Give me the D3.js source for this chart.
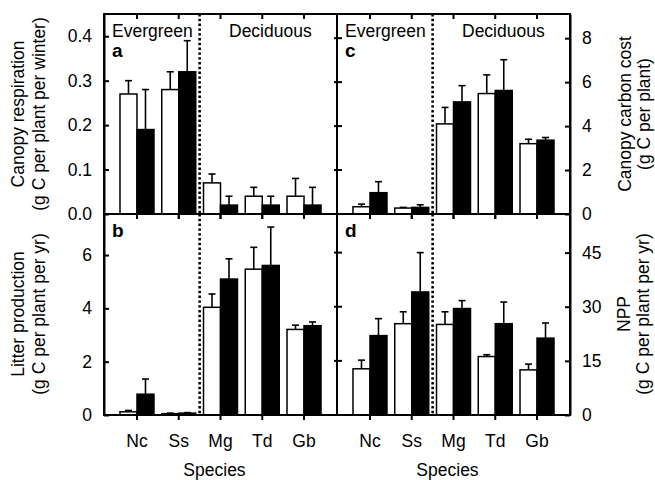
<!DOCTYPE html>
<html>
<head>
<meta charset="utf-8">
<script src="https://d3js.org/d3.v7.min.js"></script>
<style>
  body { margin: 0; background: #fff; }
  text { font-family: "Liberation Sans", Arial, sans-serif; fill: #000; }
</style>
</head>
<body>
<svg width="655" height="480"></svg>
<script>
// categories
var species = ["Nc", "Ss", "Mg", "Td", "Gb"];

// a: canopy respiration (g C per plant per winter)
var respWhite    = [0.27, 0.28, 0.07, 0.04, 0.04];
var respWhiteErr = [0.03, 0.04, 0.02, 0.02, 0.04];
var respBlack    = [0.19, 0.32, 0.02, 0.02, 0.02];
var respBlackErr = [0.09, 0.07, 0.02, 0.02, 0.04];
var respTicks = [0, 0.1, 0.2, 0.3, 0.4];

// b: litter production (g C per plant per yr)
var litterWhite    = [0.12, 0.05, 4.04, 5.47, 3.21];
var litterWhiteErr = [0.05, 0.02, 0.50, 0.82, 0.16];
var litterBlack    = [0.78, 0.07, 5.10, 5.61, 3.35];
var litterBlackErr = [0.57, 0.02, 0.76, 1.44, 0.14];
var litterTicks = [0, 2, 4, 6];

// c: canopy carbon cost (g C per plant)
var costWhite    = [0.33, 0.27, 4.10, 5.48, 3.20];
var costWhiteErr = [0.12, 0.03, 0.75, 0.85, 0.20];
var costBlack    = [0.97, 0.30, 5.10, 5.62, 3.36];
var costBlackErr = [0.50, 0.12, 0.74, 1.40, 0.12];
var costTicks = [0, 2, 4, 6, 8];

// d: NPP (g C per plant per yr)
var nppWhite    = [12.8, 25.3, 25.1, 16.2, 12.5];
var nppWhiteErr = [2.4, 3.3, 3.5, 0.5, 1.6];
var nppBlack    = [22.0, 34.1, 29.5, 25.3, 21.3];
var nppBlackErr = [4.7, 10.9, 2.2, 6.0, 4.2];
var nppTicks = [0, 15, 30, 45];

var svg = d3.select("svg");
var L = 104, M = 337, R = 570, T = 14, MID = 214, B = 415;
var pw = M - L, barW = 17;
var fs = 17.5;

var x = d3.scalePoint().domain(species).range([0, pw]).padding(0.79);

var panels = [
  {x0: L, y0: T, y1: MID, max: 0.45, ticks: respTicks, fmt: d3.format(".1f"),
   w: respWhite, we: respWhiteErr, b: respBlack, be: respBlackErr, letter: "a", side: "left"},
  {x0: L, y0: MID, y1: B, max: 7.54, ticks: litterTicks, fmt: d3.format("d"),
   w: litterWhite, we: litterWhiteErr, b: litterBlack, be: litterBlackErr, letter: "b", side: "left"},
  {x0: M, y0: T, y1: MID, max: 9.1, ticks: costTicks, fmt: d3.format("d"),
   w: costWhite, we: costWhiteErr, b: costBlack, be: costBlackErr, letter: "c", side: "right"},
  {x0: M, y0: MID, y1: B, max: 55.7, ticks: nppTicks, fmt: d3.format("d"),
   w: nppWhite, we: nppWhiteErr, b: nppBlack, be: nppBlackErr, letter: "d", side: "right"}
];

panels.forEach(function(p) {
  var y = d3.scaleLinear().domain([0, p.max]).range([p.y1, p.y0]);
  var g = svg.append("g");

  // bars
  var rows = species.map(function(s, i) {
    return {s: s, w: p.w[i], we: p.we[i], b: p.b[i], be: p.be[i]};
  });
  [["w", "we", -barW, "#fff"], ["b", "be", 0, "#000"]].forEach(function(k) {
    var gg = g.append("g");
    // error bars (upper only)
    gg.selectAll("line.err").data(rows).enter().append("line")
      .attr("x1", function(d) { return p.x0 + x(d.s) + k[2] + barW / 2; })
      .attr("x2", function(d) { return p.x0 + x(d.s) + k[2] + barW / 2; })
      .attr("y1", function(d) { return y(d[k[0]]); })
      .attr("y2", function(d) { return y(d[k[0]] + d[k[1]]); })
      .attr("stroke", "#000").attr("stroke-width", 1.6);
    gg.selectAll("line.cap").data(rows).enter().append("line")
      .attr("x1", function(d) { return p.x0 + x(d.s) + k[2] + barW / 2 - 3.5; })
      .attr("x2", function(d) { return p.x0 + x(d.s) + k[2] + barW / 2 + 3.5; })
      .attr("y1", function(d) { return y(d[k[0]] + d[k[1]]); })
      .attr("y2", function(d) { return y(d[k[0]] + d[k[1]]); })
      .attr("stroke", "#000").attr("stroke-width", 1.6);
    gg.selectAll("rect").data(rows).enter().append("rect")
      .attr("x", function(d) { return p.x0 + x(d.s) + k[2]; })
      .attr("y", function(d) { return y(d[k[0]]); })
      .attr("width", barW)
      .attr("height", function(d) { return p.y1 - y(d[k[0]]); })
      .attr("fill", k[3]).attr("stroke", "#000").attr("stroke-width", 1.5);
  });

  // dotted divider between Ss and Mg
  var dx = p.x0 + (x("Ss") + x("Mg")) / 2;
  g.append("line").attr("x1", dx).attr("x2", dx).attr("y1", p.y0).attr("y2", p.y1)
    .attr("stroke", "#000").attr("stroke-width", 2.6).attr("stroke-dasharray", "2.4,2.4");

  // frame
  g.append("rect").attr("x", p.x0).attr("y", p.y0).attr("width", pw).attr("height", p.y1 - p.y0)
    .attr("fill", "none").attr("stroke", "#000").attr("stroke-width", 2);

  // x ticks on top and bottom edges (pointing down)
  [p.y0, p.y1].forEach(function(yy) {
    g.selectAll(null).data(species).enter().append("line")
      .attr("x1", function(d) { return p.x0 + x(d); })
      .attr("x2", function(d) { return p.x0 + x(d); })
      .attr("y1", yy).attr("y2", yy + 5)
      .attr("stroke", "#000").attr("stroke-width", 2);
  });

  // y axis
  var ax;
  if (p.side === "left") {
    ax = d3.axisLeft(y).tickValues(p.ticks).tickFormat(p.fmt).tickSizeInner(-5).tickSizeOuter(0).tickPadding(12);
    g.append("g").attr("transform", "translate(" + p.x0 + ",0)").call(ax);
  } else {
    ax = d3.axisRight(y).tickValues(p.ticks).tickFormat(p.fmt).tickSizeInner(-5).tickSizeOuter(0).tickPadding(12);
    g.append("g").attr("transform", "translate(" + (p.x0 + pw) + ",0)").call(ax);
    // crossing ticks on the shared middle line
    g.selectAll(null).data(p.ticks.slice(1)).enter().append("line")
      .attr("x1", p.x0 - 3).attr("x2", p.x0 + 5)
      .attr("y1", function(d) { return y(d); }).attr("y2", function(d) { return y(d); })
      .attr("stroke", "#000").attr("stroke-width", 2);
  }

  // panel letter
  g.append("text").attr("x", p.x0 + 8).attr("y", p.y0 + (p.y0 === T ? 43 : 23))
    .attr("font-size", 19).attr("font-weight", "bold").text(p.letter);

  // x tick labels and title for bottom panels
  if (p.y1 === B) {
    g.selectAll(null).data(species).enter().append("text")
      .attr("x", function(d) { return p.x0 + x(d); }).attr("y", 447)
      .attr("text-anchor", "middle").attr("font-size", fs).text(function(d) { return d; });
    g.append("text").attr("x", p.x0 + pw / 2 - 6).attr("y", 476)
      .attr("text-anchor", "middle").attr("font-size", fs).text("Species");
  } else {
    g.append("text").attr("x", p.x0 + 8).attr("y", 37).attr("font-size", fs).text("Evergreen");
    g.append("text").attr("x", p.x0 + 125).attr("y", 37).attr("font-size", fs).text("Deciduous");
  }
});

svg.selectAll(".tick text").attr("font-size", fs).attr("font-family", "Liberation Sans, Arial, sans-serif");
svg.selectAll(".tick line").attr("stroke-width", 2);
svg.selectAll(".domain").attr("stroke-width", 2);

// axis titles
function vtitle(cx, cy, gap, lines) {
  var t = svg.append("text").attr("transform", "translate(" + cx + "," + cy + ") rotate(-90)")
    .attr("text-anchor", "middle").attr("font-size", fs);
  lines.forEach(function(s, i) {
    t.append("tspan").attr("x", 0).attr("dy", i === 0 ? 0 : gap).text(s);
  });
}
vtitle(24, 114, 21, ["Canopy respiration", "(g C per plant per winter)"]);
vtitle(24, 314, 21, ["Litter production", "(g C per plant per yr)"]);
vtitle(631, 114, 19, ["Canopy carbon cost", "(g C per plant)"]);
vtitle(630, 314, 19, ["NPP", "(g C per plant per yr)"]);
</script>
</body>
</html>
